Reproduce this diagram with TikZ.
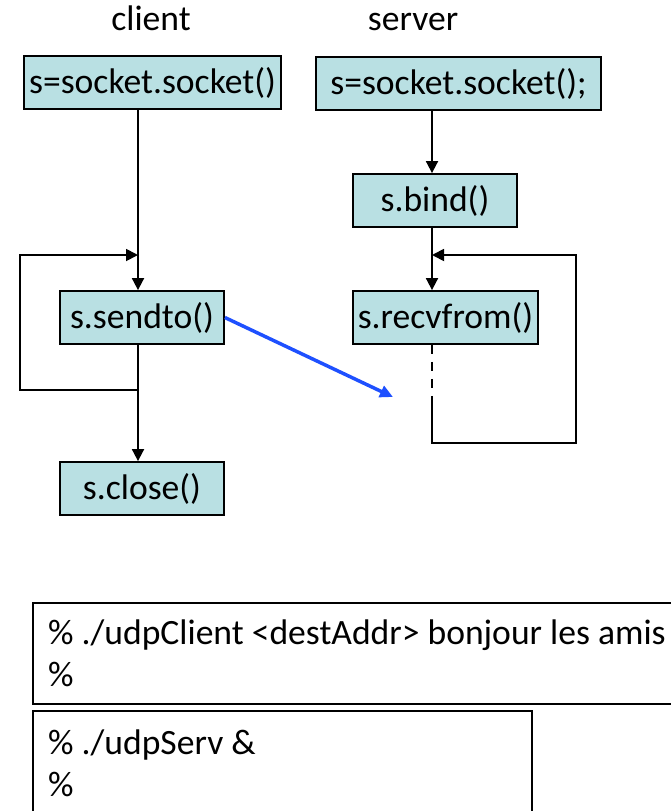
\documentclass[tikz,border=0pt]{standalone}
\usepackage{fontspec}
\setmainfont{Carlito}
\usetikzlibrary{arrows.meta}
\definecolor{boxfill}{RGB}{185,224,227}
\definecolor{msgblue}{RGB}{30,80,255}
\tikzset{
  call/.style={draw, line width=1.8pt, fill=boxfill, inner sep=0pt, minimum height=53pt},
  flow/.style={line width=1.8pt, -{Triangle[length=12pt,width=12pt]}},
  term/.style={draw, line width=1.8pt, inner sep=0pt, anchor=north west},
  shell/.style={anchor=base west, inner sep=0pt}
}
\begin{document}
\begin{tikzpicture}[x=1pt, y=-1pt, font=\fontsize{35.6}{42}\selectfont]
  \useasboundingbox (0,0) rectangle (671,811);
  \node[anchor=base] (client) at (151,30) {client};
  \node[anchor=base] (server) at (413,30) {server};

  \node[call, minimum width=257pt] (csock) at (152.5,82.5) {s=socket.socket()};
  \node[call, minimum width=285pt] (ssock) at (458.5,83.5) {s=socket.socket();};
  \node[call, minimum width=164pt] (bind) at (435,200.5) {s.bind()};
  \node[call, minimum width=164pt] (sendto) at (142,317.5) {s.sendto()};
  \node[call, minimum width=185pt] (recvfrom) at (445.5,317.5) {s.recvfrom()};
  \node[call, minimum width=164pt] (close) at (142,488.5) {s.close()};

  \coordinate (cx) at (138,0);
  \coordinate (sx) at (432,0);
  \coordinate (cjoin) at (138,255);
  \coordinate (sjoin) at (432,255);
  \coordinate (cback) at (138,390);
  \coordinate (cleft) at (20,390);
  \coordinate (sdash) at (432,400);
  \coordinate (sback) at (432,443);
  \coordinate (sright) at (576,443);
  \coordinate (msg) at (393,397);

  % client side
  \draw[flow] (csock.south -| cx) -- (sendto.north -| cx);
  \draw[flow] (sendto.south -| cx) -- (close.north -| cx);
  \draw[flow] (cback) -- (cleft) |- (cjoin);

  % server side
  \draw[flow] (ssock.south -| sx) -- (bind.north -| sx);
  \draw[flow] (bind.south -| sx) -- (recvfrom.north -| sx);
  \draw[line width=1.8pt, dash pattern=on 9pt off 8pt] (recvfrom.south -| sx) -- (sdash);
  \draw[flow] (sdash) -- (sback) -- (sright) |- (sjoin);

  % datagram
  \draw[line width=3.5pt, msgblue, -{Triangle[length=13pt,width=12pt]}] (sendto.east) -- (msg);

  % terminals
  \node[term, minimum width=645pt, minimum height=101pt] (cterm) at (32,602) {};
  \node[shell] (cline1) at (48,644) {\% ./udpClient <destAddr> bonjour les amis};
  \node[shell] (cline2) at (48,686) {\%};
  \node[term, minimum width=499pt, minimum height=110pt] (sterm) at (32,710) {};
  \node[shell] (sline1) at (48,754) {\% ./udpServ \&};
  \node[shell] (sline2) at (48,796) {\%};
\end{tikzpicture}
\end{document}
